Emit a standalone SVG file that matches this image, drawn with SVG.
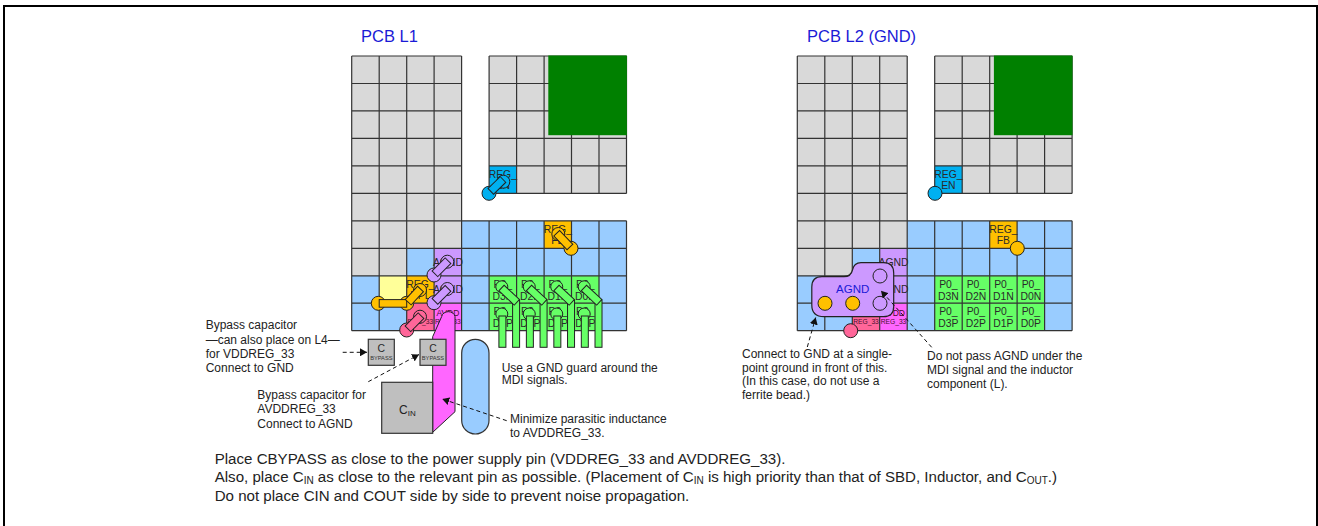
<svg xmlns="http://www.w3.org/2000/svg" xmlns:xlink="http://www.w3.org/1999/xlink" width="1318" height="526" viewBox="0 0 1318 526">
<style>
text{font-family:"Liberation Sans",Arial,sans-serif;fill:#222}
.note{font-size:12px}
.main{font-size:15.1px}
.title{font-size:16.5px;fill:#1a1ad6}
.cell{font-size:10.4px;text-anchor:middle;fill:#2a2a2a}
.small{font-size:8.5px;text-anchor:middle;fill:#4a1030}
.tiny{font-size:6.7px;text-anchor:middle;fill:#4a1030}
.byp{font-size:5.7px;text-anchor:middle;fill:#333}
.grid{fill:none;stroke:#333;stroke-width:1.2}
.g{fill:#d9d9d9}.b{fill:#99ccff}.gn{fill:#66ff66}.o{fill:#ffc000}.y{fill:#ffff99}.p{fill:#cc99ff}.r{fill:#ff6699}.m{fill:#ff66ff}.c{fill:#00b0f0}.dg{fill:#008000}
.via{stroke:#222;stroke-width:1}
.tr{stroke:#222;stroke-width:1}
.cap{fill:#bfbfbf;stroke:#333;stroke-width:1.2}
.arrow{fill:none;stroke:#111;stroke-width:1;stroke-dasharray:4 3;marker-end:url(#head)}
</style>
<defs>
<marker id="head" markerUnits="userSpaceOnUse" markerWidth="8" markerHeight="8" refX="7" refY="4" orient="auto"><path d="M0 0L7 4L0 8Z" fill="#111"/></marker>
<g id="board">
<rect class="g" x="351.7" y="56" width="110" height="192.3"/>
<rect class="g" x="351.7" y="248.3" width="55" height="27.5"/>
<rect class="g" x="489.1" y="56" width="137.4" height="137.4"/>
<rect class="b" x="461.6" y="220.8" width="164.9" height="109.9"/>
<rect class="b" x="406.7" y="248.3" width="27.5" height="27.5"/>
<rect class="b" x="351.7" y="275.8" width="110" height="54.9"/>
<rect class="p" x="434.1" y="248.3" width="27.5" height="55"/>
<rect class="y" x="379.2" y="275.8" width="27.5" height="27.4"/>
<rect class="o" x="406.7" y="275.8" width="27.4" height="27.4"/>
<rect class="r" x="406.7" y="303.2" width="27.4" height="27.5"/>
<rect class="m" x="434.1" y="303.2" width="27.5" height="27.5"/>
<rect class="gn" x="489.1" y="275.8" width="110" height="54.9"/>
<rect class="o" x="544.1" y="220.8" width="27.4" height="27.5"/>
<rect class="c" x="489.1" y="165.9" width="27.5" height="27.5"/>
<path class="grid" d="M351.7 56H461.6M351.7 83.5H461.6M351.7 110.9H461.6M351.7 138.4H461.6M351.7 165.9H461.6M351.7 193.4H461.6M351.7 220.8H626.5M351.7 248.3H626.5M351.7 275.8H626.5M351.7 303.2H626.5M351.7 330.7H626.5M489.1 56H626.5M489.1 83.5H626.5M489.1 110.9H626.5M489.1 138.4H626.5M489.1 165.9H626.5M489.1 193.4H626.5M351.7 56V330.7M379.2 56V330.7M406.7 56V330.7M434.1 56V330.7M461.6 56V330.7M489.1 56V193.4M516.6 56V193.4M544.1 56V193.4M571.5 56V193.4M599 56V193.4M626.5 56V193.4M489.1 220.8V330.7M516.6 220.8V330.7M544.1 220.8V330.7M571.5 220.8V330.7M599 220.8V330.7M626.5 220.8V330.7"/>
<rect class="dg" x="548.3" y="55.5" width="78.6" height="79.7"/>
</g>
<g id="mdi">
<rect class="gn tr" x="512.6" y="300" width="7" height="47.3"/>
<circle class="gn via" cx="501.8" cy="286.8" r="6"/>
<circle class="gn via" cx="501.8" cy="314" r="6"/>
<rect class="gn tr" x="0" y="-3.8" width="21" height="7.6" transform="translate(501.5,288) rotate(43)"/>
<rect class="gn tr" x="498.9" y="316" width="7" height="31.3"/>
</g>
</defs>

<rect x="4" y="6" width="1313" height="530" fill="none" stroke="#000" stroke-width="2"/>

<g id="pcb-l1">
<text class="title" x="361" y="42">PCB L1</text>
<use xlink:href="#board" href="#board"/>
<text class="cell" x="502.8" y="178">REG_</text><text class="cell" x="502.8" y="189">EN</text>
<text class="cell" x="557.8" y="233">REG_</text><text class="cell" x="557.8" y="244">FB</text>
<text class="cell" x="447.9" y="265.5">AGND</text>
<text class="cell" x="447.9" y="293">AGND</text>
<text class="cell" x="420.4" y="288">REG_</text><text class="cell" x="420.4" y="299">DPL</text>
<text class="small" x="447.9" y="316">AVDD</text><text class="tiny" x="447.9" y="324">REG_33</text>
<text class="tiny" x="420.4" y="324">REG_33</text>
<text class="cell" x="502.8" y="287.5">P0_</text><text class="cell" x="502.8" y="299.5">D3N</text>
<text class="cell" x="530.3" y="287.5">P0_</text><text class="cell" x="530.3" y="299.5">D2N</text>
<text class="cell" x="557.8" y="287.5">P0_</text><text class="cell" x="557.8" y="299.5">D1N</text>
<text class="cell" x="585.3" y="287.5">P0_</text><text class="cell" x="585.3" y="299.5">D0N</text>
<text class="cell" x="502.8" y="315">P0_</text><text class="cell" x="502.8" y="327">D3P</text>
<text class="cell" x="530.3" y="315">P0_</text><text class="cell" x="530.3" y="327">D2P</text>
<text class="cell" x="557.8" y="315">P0_</text><text class="cell" x="557.8" y="327">D1P</text>
<text class="cell" x="585.3" y="315">P0_</text><text class="cell" x="585.3" y="327">D0P</text>

<g id="via-en">
<circle class="c via" cx="489" cy="193.3" r="7"/><circle class="c via" cx="503.3" cy="181.7" r="6.5"/>
<rect class="c tr" x="0" y="-4" width="17" height="8" transform="translate(503,179.5) rotate(136)"/>
</g>
<g id="via-fb">
<circle class="o via" cx="571" cy="248.3" r="7"/><circle class="o via" cx="558.3" cy="234" r="6.5"/>
<rect class="o tr" x="0" y="-4" width="19" height="8" transform="translate(556.7,233.3) rotate(46)"/>
</g>
<g id="via-agnd1">
<circle class="p via" cx="434" cy="275" r="7"/><circle class="p via" cx="447.3" cy="261.7" r="6.5"/>
<rect class="p tr" x="0" y="-4" width="18.5" height="8" transform="translate(448,260.7) rotate(135)"/>
</g>
<g id="via-agnd2">
<circle class="p via" cx="434" cy="302.7" r="7"/><circle class="p via" cx="447.3" cy="289" r="6.5"/>
<rect class="p tr" x="0" y="-4" width="18.5" height="8" transform="translate(448,288.3) rotate(135)"/>
</g>
<g id="via-reg33">
<circle class="r via" cx="406.7" cy="330" r="7"/><circle class="r via" cx="420" cy="316.7" r="6.5"/>
<rect class="r tr" x="0" y="-4" width="18.5" height="8" transform="translate(421,315.7) rotate(135)"/>
</g>
<g id="via-dpl">
<circle class="o via" cx="378.3" cy="303.3" r="7"/><circle class="o via" cx="406.7" cy="303.3" r="7"/><circle class="o via" cx="420" cy="290" r="6.5"/>
<rect class="o tr" x="379.2" y="299.6" width="27.5" height="7.6"/>
<rect class="o tr" x="0" y="-4" width="18" height="8" transform="translate(420.5,289) rotate(133)"/>
</g>
<g id="mdi-traces">
<use xlink:href="#mdi" href="#mdi"/>
<use xlink:href="#mdi" href="#mdi" transform="translate(27.47,0)"/>
<use xlink:href="#mdi" href="#mdi" transform="translate(54.94,0)"/>
<use xlink:href="#mdi" href="#mdi" transform="translate(82.41,0)"/>
</g>
<g id="avdd-trace">
<path class="m" stroke="#222" d="M441.7 316.5A6.7 5.5 0 0 1 455 316.5V411.7L432.7 432.3V336.7Z"/>
</g>
<rect id="guard" class="b" x="461.7" y="339.3" width="27.3" height="94.7" rx="13.6" stroke="#333" stroke-width="1.2"/>
<g id="cap-vdd">
<rect class="cap" x="368.3" y="339.3" width="26" height="26"/>
<text class="cell" x="381.3" y="352">C</text><text class="byp" x="381.3" y="359.5">BYPASS</text>
</g>
<g id="cap-avdd">
<rect class="cap" x="420" y="339.3" width="26" height="26"/>
<text class="cell" x="433" y="352">C</text><text class="byp" x="433" y="359.5">BYPASS</text>
</g>
<g id="cin">
<rect class="cap" x="381.7" y="382.3" width="51" height="51"/>
<text x="399" y="413.5" font-size="12">C<tspan font-size="8" dy="2">IN</tspan></text>
</g>
<text class="note" x="205.7" y="329">Bypass capacitor</text>
<text class="note" x="205.7" y="343.5">—can also place on L4—</text>
<text class="note" x="205.7" y="358">for VDDREG_33</text>
<text class="note" x="205.7" y="372">Connect to GND</text>
<text class="note" x="257.3" y="398.5">Bypass capacitor for</text>
<text class="note" x="257.3" y="413">AVDDREG_33</text>
<text class="note" x="257.3" y="427.5">Connect to AGND</text>
<text class="note" x="501.7" y="371.5">Use a GND guard around the</text>
<text class="note" x="501.7" y="384">MDI signals.</text>
<text class="note" x="510" y="422.5">Minimize parasitic inductance</text>
<text class="note" x="510" y="436.5">to AVDDREG_33.</text>
</g>

<g id="pcb-l2">
<text class="title" x="807" y="42">PCB L2 (GND)</text>
<use xlink:href="#board" href="#board" transform="translate(445.6,0)"/>
<text class="cell" x="948.4" y="178">REG_</text><text class="cell" x="948.4" y="189">EN</text>
<text class="cell" x="1003.4" y="233">REG_</text><text class="cell" x="1003.4" y="244">FB</text>
<text class="cell" x="893.5" y="265.5">AGND</text>
<text class="cell" x="893.5" y="293">AGND</text>
<text class="small" x="893.5" y="316">AVDD</text><text class="tiny" x="893.5" y="324">REG_33</text>
<text class="tiny" x="866" y="324">REG_33</text>
<text class="cell" x="948.4" y="287.5">P0_</text><text class="cell" x="948.4" y="299.5">D3N</text>
<text class="cell" x="975.9" y="287.5">P0_</text><text class="cell" x="975.9" y="299.5">D2N</text>
<text class="cell" x="1003.4" y="287.5">P0_</text><text class="cell" x="1003.4" y="299.5">D1N</text>
<text class="cell" x="1030.9" y="287.5">P0_</text><text class="cell" x="1030.9" y="299.5">D0N</text>
<text class="cell" x="948.4" y="315">P0_</text><text class="cell" x="948.4" y="327">D3P</text>
<text class="cell" x="975.9" y="315">P0_</text><text class="cell" x="975.9" y="327">D2P</text>
<text class="cell" x="1003.4" y="315">P0_</text><text class="cell" x="1003.4" y="327">D1P</text>
<text class="cell" x="1030.9" y="315">P0_</text><text class="cell" x="1030.9" y="327">D0P</text>
<circle id="l2-via-en" class="c via" cx="935" cy="193.3" r="7"/>
<circle id="l2-via-fb" class="o via" cx="1017.3" cy="248.3" r="7"/>
<circle id="l2-via-reg33" class="r via" cx="850.7" cy="330.7" r="7"/>
<g id="agnd-plane">
<path class="p" stroke="#222" stroke-width="1.2" d="M822 276.7H844Q851 276.5 852.5 270Q854 262.7 861 262.7H883.5Q893.7 262.7 893.7 273V306.5Q893.7 316.7 883.5 316.7H824Q811.8 316.7 811.8 305V287Q811.8 276.7 822 276.7Z"/>
<text x="852.7" y="293" font-size="11.5" text-anchor="middle" style="fill:#1a1ad6">AGND</text>
<circle class="o via" cx="825" cy="303.3" r="7"/>
<circle class="o via" cx="852.7" cy="303.3" r="7"/>
<circle class="p via" cx="880" cy="303.3" r="7"/>
<circle class="p via" cx="880" cy="276" r="7"/>
</g>
<text class="note" x="742" y="357.5">Connect to GND at a single-</text>
<text class="note" x="742" y="371.5">point ground in front of this.</text>
<text class="note" x="742" y="385">(In this case, do not use a</text>
<text class="note" x="742" y="399">ferrite bead.)</text>
<text class="note" x="927" y="359.5">Do not pass AGND under the</text>
<text class="note" x="927" y="373.5">MDI signal and the inductor</text>
<text class="note" x="927" y="387.5">component (L).</text>
</g>

<g id="connectors">
<path class="arrow" d="M342.7 352.3H367"/>
<path class="arrow" d="M368.3 381.7L419 354.5"/>
<path class="arrow" d="M506.7 420.7L442.3 399"/>
<path class="arrow" d="M807.3 347L815.7 317.5"/>
<path class="arrow" d="M931.7 347.3L881 290.7"/>
</g>

<g id="notes">
<text class="main" x="214.7" y="463.5">Place CBYPASS as close to the power supply pin (VDDREG_33 and AVDDREG_33).</text>
<text class="main" x="214.7" y="482">Also, place C<tspan font-size="10" dy="2">IN</tspan><tspan dy="-2"> as close to the relevant pin as possible. (Placement of C</tspan><tspan font-size="10" dy="2">IN</tspan><tspan dy="-2"> is high priority than that of SBD, Inductor, and C</tspan><tspan font-size="10" dy="2">OUT</tspan><tspan dy="-2">.)</tspan></text>
<text class="main" x="214.7" y="500.5">Do not place CIN and COUT side by side to prevent noise propagation.</text>
</g>
</svg>
